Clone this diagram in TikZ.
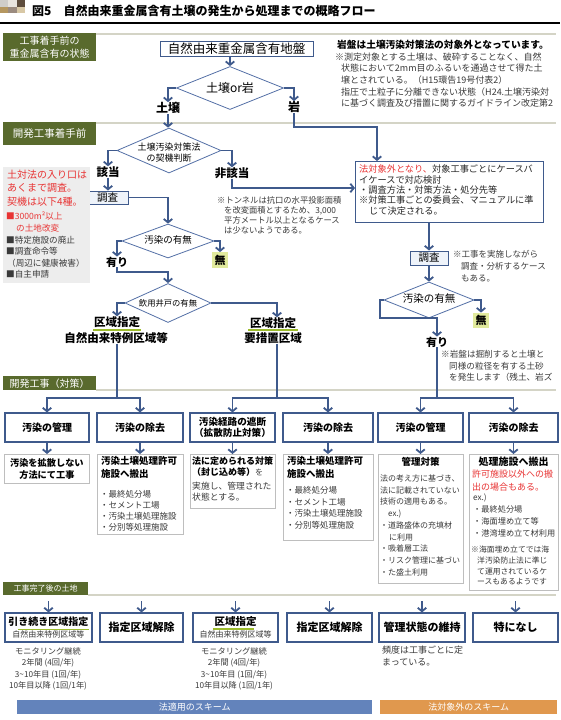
\documentclass[tikz,border=0pt]{standalone}
\usepackage{fontspec}
\setmainfont{Noto Sans CJK JP}
\usetikzlibrary{shapes.geometric,arrows.meta}
\definecolor{lb}{HTML}{3F5A8C}
\definecolor{db}{HTML}{5470A6}
\definecolor{olv}{HTML}{596A2D}
\definecolor{gl}{HTML}{D4D4C6}
\definecolor{rd}{HTML}{E83434}
\definecolor{gbd}{HTML}{BEBEBE}
\definecolor{lbf}{HTML}{EEF3FA}
\definecolor{hl}{HTML}{E1EA9C}
\definecolor{ug}{HTML}{9CBB2C}
\definecolor{barA}{HTML}{6383BB}
\definecolor{barB}{HTML}{E0984E}
\definecolor{txg}{HTML}{3A3A3A}
\definecolor{lgr}{HTML}{EDEDED}
\definecolor{sqA}{HTML}{CFCDCA}
\definecolor{sqB}{HTML}{E8E4DE}
\definecolor{sqC}{HTML}{5E4D3D}
\definecolor{sqD}{HTML}{B59760}
\definecolor{sqE}{HTML}{9B8B7F}
\definecolor{sqF}{HTML}{D8C8A6}
\newcommand\fz[2]{\fontsize{#1pt}{#2pt}\selectfont}
\begin{document}
\begin{tikzpicture}[x=1pt,y=-1pt,
  conn/.style={draw=lb,line width=1.8pt,-{Straight Barb[length=3.5pt,width=8.5pt]}},
  lin/.style={draw=lb,line width=1.8pt},
  dia/.style={diamond,draw=db,line width=0.8pt,fill=white,inner sep=0pt},
  bbox/.style={draw=lb,line width=1.1pt,fill=white,inner sep=0pt,align=center},
  gbox/.style={draw=gbd,line width=0.8pt,fill=white,inner sep=0pt,anchor=north west},
  hdr/.style={fill=olv,text=white,inner sep=0pt,anchor=north west,align=center},
  txt/.style={inner sep=0pt,align=left,anchor=north west,text=txg},
  bl/.style={inner sep=0pt,font=\bfseries\fz{11.5}{13}},
  hline/.style={draw=gl,line width=2pt},
  uline/.style={draw=ug,line width=1.1pt},
  hilite/.style={fill=hl,inner sep=2.5pt,font=\bfseries\fz{11}{12}},
  chk/.style={draw=lb,line width=1pt,fill=lbf,inner sep=0pt,font=\fz{10.5}{12}},
]
\useasboundingbox (0,0) rectangle (560,720);
\fill[white] (0,0) rectangle (560,720);

% title
\fill[sqA] (0,0) rectangle (8.3,6.5);
\fill[sqB] (8.3,0) rectangle (16.6,6.5);
\fill[sqC] (16.6,0) rectangle (25,6.5);
\fill[sqD] (0,6.5) rectangle (8.3,13);
\fill[sqE] (8.3,6.5) rectangle (16.6,13);
\fill[sqF] (16.6,6.5) rectangle (25,13);
\node[anchor=west,inner sep=0pt,font=\bfseries\fz{12}{14}] (title) at (32,11) {図5　自然由来重金属含有土壌の発生から処理までの概略フロー};
\draw[line width=1.5pt] (0,23) -- (560,23);

% section 1
\node[hdr,minimum width=93pt,minimum height=28pt,font=\fz{10}{12.5}] (h1) at (3,33) {工事着手前の\\重金属含有の状態};
\draw[hline] (96,34) -- (556,34);
\node[draw=lb,line width=0.9pt,fill=white,minimum width=153pt,minimum height=15pt,inner sep=0pt,font=\fz{12.5}{14}] (top) at (236.5,48.5) {自然由来重金属含有地盤};
\node[dia,minimum width=107pt,minimum height=43pt] (d1) at (230,88) {};
\node[inner sep=0pt,font=\fz{12}{14}] (d1t) at (230,88) {土壌or岩};
\node[bl,font=\bfseries\fz{12}{14}] (soil) at (168,108) {土壌};
\node[bl,font=\bfseries\fz{12}{14}] (rock) at (294,107) {岩};
\node[txt,text=black,font=\bfseries\fz{9.7}{11}] (rockhd) at (337,40) {岩盤は土壌汚染対策法の対象外となっています。};
\node[txt,font=\fz{9}{11.6}] (rocknote) at (335,52.5) {※測定対象とする土壌は、破砕することなく、自然\\\hspace*{6pt}状態において2mm目のふるいを通過させて得た土\\\hspace*{6pt}壌とされている。（H15環告19号付表2）\\\hspace*{6pt}指圧で土粒子に分離できない状態（H24.土壌汚染対\\\hspace*{6pt}に基づく調査及び措置に関するガイドライン改定第2};

% section 2
\node[hdr,minimum width=93pt,minimum height=23pt,font=\fz{10.5}{12}] (h2) at (3,122) {開発工事着手前};
\draw[hline] (96,123) -- (556,123);
\node[dia,minimum width=104pt,minimum height=45pt] (d2) at (169,150.5) {};
\node[inner sep=0pt,align=center,font=\fz{9}{11}] (d2t) at (169,153) {土壌汚染対策法\\の契機判断};
\node[bl] (gai) at (108,172) {該当};
\node[bl] (hi) at (232,173) {非該当};
\node[chk,minimum width=41pt,minimum height=13pt] (ch1) at (107.5,197.5) {調査};
\node[dia,minimum width=92pt,minimum height=34pt] (d3) at (168,241) {};
\node[inner sep=0pt,font=\fz{9.5}{11}] (d3t) at (168,239.5) {汚染の有無};
\node[bl,font=\bfseries\fz{11}{12}] (ari1) at (117,262) {有り};
\node[hilite] (mu1) at (220,260) {無};
\node[dia,minimum width=86pt,minimum height=39pt] (d4) at (168,303) {};
\node[inner sep=0pt,font=\fz{8.3}{10}] (d4t) at (168,303) {飲用井戸の有無};
\node[bl] (kz1) at (117,322) {区域指定};
\node[bl] (tk1) at (116,338) {自然由来特例区域等};
\draw[uline] (93,330) -- (141,330);
\node[bl] (kz2) at (273,323) {区域指定};
\node[bl] (yz) at (273,338) {要措置区域};
\draw[uline] (248,330) -- (298,330);

% left note
\node[fill=lgr,anchor=north west,minimum width=87pt,minimum height=116pt,inner sep=0pt] (lbox) at (3,167) {};
\node[txt,text=rd,font=\fz{10}{13.5}] (lboxa) at (7,169.5) {土対法の入り口は\\あくまで調査。\\契機は以下4種。};
\node[txt,font=\fz{8.6}{11.6}] (lboxb) at (6,212) {\textcolor{rd}{■3000m²以上}\\\textcolor{rd}{\hspace*{10pt}の土地改変}\\■特定施設の廃止\\■調査命令等\\\hspace*{1pt}（周辺に健康被害）\\■自主申請};

% right branch
\node[draw=lb,line width=1pt,fill=white,anchor=north west,minimum width=188pt,minimum height=61pt,inner sep=0pt] (rbox) at (355,161) {};
\node[txt,text=black!85,font=\fz{9.2}{10.3}] (rboxt) at (359,165) {\textcolor{rd}{法対象外となり、}対象工事ごとにケースバ\\イケースで対応検討\\・調査方法・対策方法・処分先等\\※対策工事ごとの委員会、マニュアルに準\\\hspace*{10pt}じて決定される。};
\node[txt,font=\fz{8.3}{10}] (tunnel) at (217,196) {※トンネルは抗口の水平投影面積\\\hspace*{7pt}を改変面積とするため、3,000\\\hspace*{7pt}平方メートル以上となるケース\\\hspace*{7pt}は少ないようである。};
\node[chk,minimum width=38pt,minimum height=14pt] (ch2) at (429,258) {調査};
\node[txt,font=\fz{8.5}{11.7}] (note2) at (453,250.5) {※工事を実施しながら\\\hspace*{8pt}調査・分析するケース\\\hspace*{8pt}もある。};
\node[dia,minimum width=90pt,minimum height=36pt] (d5) at (429,300) {};
\node[inner sep=0pt,font=\fz{10.5}{12}] (d5t) at (429,299) {汚染の有無};
\node[bl,font=\bfseries\fz{11}{12}] (ari2) at (437,342) {有り};
\node[hilite] (mu2) at (481,320.5) {無};
\node[txt,font=\fz{8.6}{11.5}] (note3) at (441,350.5) {※岩盤は掘削すると土壌と\\\hspace*{8pt}同様の粒径を有する土砂\\\hspace*{8pt}を発生します（残土、岩ズ};

% connectors upper part
\draw[conn] (d1.north |- top.south) -- (d1.north);
\draw[conn] (d1.west) -| (soil.north);
\draw[conn] (d1.east) -| (rock.north);
\draw[conn] (soil.south) -- (soil.south |- d2.north);
\coordinate (jr) at (377,127);
\draw[conn] (rock.south) |- (jr) -- (jr |- rbox.north);
\draw[conn] (d2.west) -| (gai.north);
\draw[conn] (d2.east) -| (hi.north);
\draw[conn] (gai.south) -- (gai.south |- ch1.north);
\draw[conn] (ch1.east) -| (d3.north);
\draw[conn] (d3.west) -| (ari1.north);
\draw[conn] (d3.east) -| (mu1.north);
\coordinate (j4) at (140,272);
\draw[conn] (ari1.south) |- (j4) -| (d4.north);
\coordinate (J1) at (117,398);
\coordinate (J2) at (277,398);
\coordinate (J3) at (437,398);
\draw[conn] (d4.west) -| (kz1.north);
\draw[conn] (d4.east) -| (kz2.north -| J2);
\coordinate (jh) at (300,188);
\draw[conn] (hi.south) |- (rbox.west |- jh);
\draw[conn] (ch2.north |- rbox.south) -- (ch2.north);
\draw[conn] (ch2.south) -- (d5.north);
\coordinate (k1) at (380,318);
\draw[conn] (d5.west) -| (k1) -| (ari2.north);
\draw[conn] (d5.east) -| (mu2.north);

% section 3
\node[hdr,minimum width=93pt,minimum height=14pt,font=\fz{10}{11}] (h3) at (3,376) {開発工事（対策）};
\draw[hline] (96,390) -- (556,390);
\node[bbox,minimum width=84pt,minimum height=29pt,font=\bfseries\fz{10}{11}] (m1) at (47,427.5) {汚染の管理};
\node[bbox,minimum width=86pt,minimum height=29pt,font=\bfseries\fz{10}{11}] (m2) at (140,427.5) {汚染の除去};
\node[bbox,minimum width=85pt,minimum height=29pt,font=\bfseries\fz{9.6}{11.5}] (m3) at (232.5,427.5) {汚染経路の遮断\\（拡散防止対策）};
\node[bbox,minimum width=90pt,minimum height=29pt,font=\bfseries\fz{10}{11}] (m4) at (328,427.5) {汚染の除去};
\node[bbox,minimum width=85pt,minimum height=29pt,font=\bfseries\fz{10}{11}] (m5) at (420.5,427.5) {汚染の管理};
\node[bbox,minimum width=89pt,minimum height=29pt,font=\bfseries\fz{10}{11}] (m6) at (513.5,427.5) {汚染の除去};
\draw[lin] (tk1.south -| J1) -- (J1);
\draw[conn] (J1) -| (m1.north);
\draw[conn] (J1) -| (m2.north);
\draw[lin] (yz.south -| J2) -- (J2);
\draw[conn] (J2) -| (m3.north);
\draw[conn] (J2) -| (m4.north);
\draw[lin] (ari2.south) -- (ari2.south |- J3);
\draw[conn] (J3) -| (m5.north);
\draw[conn] (J3) -| (m6.north);

% detail boxes
\node[gbox,minimum width=85pt,minimum height=29pt] (g1) at (4,454) {};
\node[inner sep=0pt,align=center,font=\bfseries\fz{9.2}{11.5}] (g1t) at (g1.center) {汚染を拡散しない\\方法にて工事};
\node[gbox,minimum width=86pt,minimum height=80pt] (g2) at (97,454) {};
\node[txt,text=black,font=\bfseries\fz{9.5}{13}] (g2t) at (101,456) {汚染土壌処理許可\\施設へ搬出};
\node[txt,font=\fz{8.5}{10.8}] (g2b) at (100,490.5) {・最終処分場\\・セメント工場\\・汚染土壌処理施設\\・分別等処理施設};
\node[gbox,minimum width=85pt,minimum height=54pt] (g3) at (190,454) {};
\node[txt,text=black,font=\bfseries\fz{9}{11}] (g3t) at (192,456.5) {法に定められる対策\\（封じ込め等）{\mdseries\color{txg}\fz{8}{11}を}};
\node[txt,font=\fz{8.8}{11}] (g3b) at (192,481.5) {実施し、管理された\\状態とする。};
\node[gbox,minimum width=90pt,minimum height=86pt] (g4) at (283,454) {};
\node[txt,text=black,font=\bfseries\fz{9.5}{13}] (g4t) at (287,456) {汚染土壌処理許可\\施設へ搬出};
\node[txt,font=\fz{8.5}{11.5}] (g4b) at (286,486.5) {・最終処分場\\・セメント工場\\・汚染土壌処理施設\\・分別等処理施設};
\node[gbox,minimum width=85pt,minimum height=129pt] (g5) at (378,454) {};
\node[inner sep=0pt,font=\bfseries\fz{9.5}{11}] (g5t) at (420.5,462) {管理対策};
\node[txt,font=\fz{8}{11.75}] (g5b) at (380,474.5) {法の考え方に基づき、\\法に記載されていない\\技術の適用もある。\\\hspace*{8pt}ex.)\\・道路盛体の充填材\\\hspace*{9pt}に利用\\・吸着層工法\\・リスク管理に基づい\\・た盛土利用};
\node[gbox,minimum width=89pt,minimum height=136pt] (g6) at (469,454) {};
\node[inner sep=0pt,font=\bfseries\fz{10}{11}] (g6t) at (513.5,462) {処理施設へ搬出};
\node[txt,text=rd,font=\fz{9}{12.8}] (g6r) at (472,469.5) {許可施設以外への搬\\出の場合もある。};
\node[txt,font=\fz{8.2}{12}] (g6b) at (473,493.5) {ex.)\\・最終処分場\\・海面埋め立て等\\・港湾埋め立て材利用};
\node[txt,font=\fz{7.8}{10.7}] (g6n) at (471,546) {※海面埋め立てでは海\\\hspace*{6pt}洋汚染防止法に準じ\\\hspace*{6pt}て運用されているケ\\\hspace*{6pt}ースもあるようです};
\foreach \i in {1,...,6} {\draw[conn] (m\i.south) -- (m\i.south |- g\i.north);}

% section 4
\node[hdr,minimum width=85pt,minimum height=13pt,font=\fz{8}{9}] (h4) at (3,582) {工事完了後の土地};
\draw[hline] (88,595) -- (556,595);
\node[bbox,minimum width=87pt,minimum height=29pt,font=\fz{8}{12}] (b1) at (48.5,627.5) {{\bfseries\fz{10}{12}引き続き区域指定}\\\textcolor{txg}{自然由来特例区域等}};
\node[bbox,minimum width=83pt,minimum height=29pt,font=\bfseries\fz{11}{13}] (b2) at (141.5,627.5) {指定区域解除};
\node[bbox,minimum width=85pt,minimum height=29pt,font=\fz{8}{12}] (b3) at (235.5,627.5) {{\bfseries\fz{10.5}{12}区域指定}\\\textcolor{txg}{自然由来特例区域等}};
\node[bbox,minimum width=85pt,minimum height=29pt,font=\bfseries\fz{11}{13}] (b4) at (329.5,627.5) {指定区域解除};
\node[bbox,minimum width=86pt,minimum height=29pt,font=\bfseries\fz{11}{13}] (b5) at (422,627.5) {管理状態の維持};
\node[bbox,minimum width=85pt,minimum height=29pt,font=\bfseries\fz{11}{13}] (b6) at (515.5,627.5) {特になし};
\draw[uline] (18,629.5) -- (89,629.5);
\draw[uline] (213,629) -- (254,629);
\foreach \i in {1,...,6} {\coordinate (a\i) at ([yshift=11pt]b\i.north); \draw[conn] (a\i) -- (b\i.north);}
\node[inner sep=0pt,align=center,anchor=north,text=txg,font=\fz{8.2}{11.3}] (mon1) at (48,647.5) {モニタリング継続\\2年間 (4回/年)\\3\textasciitilde10年目 (1回/年)\\10年目以降 (1回/1年)};
\node[inner sep=0pt,align=center,anchor=north,text=txg,font=\fz{8.2}{11.3}] (mon2) at (234,647.5) {モニタリング継続\\2年間 (4回/年)\\3\textasciitilde10年目 (1回/年)\\10年目以降 (1回/1年)};
\node[txt,font=\fz{9}{12}] (freq) at (382,645.5) {頻度は工事ごとに定\\まっている。};

% bars
\node[fill=barA,text=white,anchor=north west,minimum width=355pt,minimum height=14pt,inner sep=0pt,font=\fz{9}{10}] (barA) at (17,700) {法適用のスキーム};
\node[fill=barB,text=white,anchor=north west,minimum width=177pt,minimum height=14pt,inner sep=0pt,font=\fz{9}{10}] (barB) at (380,700) {法対象外のスキーム};
\end{tikzpicture}
\end{document}
